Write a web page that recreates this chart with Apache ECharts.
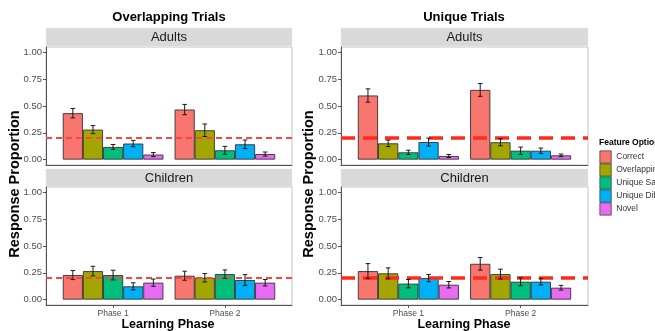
<!DOCTYPE html>
<html><head><meta charset="utf-8">
<script src="https://cdn.jsdelivr.net/npm/echarts@6/dist/echarts.min.js"></script>
<style>html,body{margin:0;padding:0;background:#fff}#c{width:655px;height:331px}</style>
</head><body><div id="c"></div><script>
// ---- data ----
const phases = ['Phase 1', 'Phase 2'];
const featureOptions = ['Correct', 'Overlapping', 'Unique Same', 'Unique Different', 'Novel'];
const yTicks = [0, 0.25, 0.5, 0.75, 1];
const chanceLevel = 0.2;
// rows = feature option, columns = phase
const overlapAdultsMean = [[0.433, 0.467], [0.280, 0.274], [0.118, 0.087], [0.150, 0.143], [0.047, 0.052]];
const overlapAdultsErr  = [[0.044, 0.048], [0.037, 0.058], [0.023, 0.037], [0.030, 0.040], [0.019, 0.019]];
const overlapChildMean  = [[0.229, 0.223], [0.266, 0.204], [0.229, 0.238], [0.124, 0.183], [0.158, 0.158]];
const overlapChildErr   = [[0.042, 0.042], [0.045, 0.039], [0.045, 0.039], [0.033, 0.050], [0.034, 0.030]];
const uniqueAdultsMean  = [[0.598, 0.650], [0.152, 0.162], [0.068, 0.083], [0.164, 0.083], [0.034, 0.040]];
const uniqueAdultsErr   = [[0.062, 0.060], [0.030, 0.033], [0.020, 0.034], [0.037, 0.025], [0.014, 0.012]];
const uniqueChildMean   = [[0.266, 0.334], [0.245, 0.238], [0.149, 0.167], [0.201, 0.167], [0.139, 0.111]];
const uniqueChildErr    = [[0.070, 0.059], [0.051, 0.046], [0.039, 0.037], [0.034, 0.030], [0.030, 0.022]];

const colors = ['#F8766D', '#A3A500', '#00BF7D', '#00B0F6', '#E76BF3'];
const FF = '"Liberation Sans", Arial, sans-serif';

const panels = [
  { mean: overlapAdultsMean, err: overlapAdultsErr, grid: { left: 46, top: 47, width: 246, height: 118 }, bottom: false, thick: false },
  { mean: overlapChildMean,  err: overlapChildErr,  grid: { left: 46, top: 187, width: 246, height: 118 }, bottom: true, thick: false },
  { mean: uniqueAdultsMean,  err: uniqueAdultsErr,  grid: { left: 341, top: 47, width: 247, height: 118 }, bottom: false, thick: true },
  { mean: uniqueChildMean,   err: uniqueChildErr,   grid: { left: 341, top: 187, width: 247, height: 118 }, bottom: true, thick: true }
];

const grids = [], xAxes = [], yAxes = [], series = [];
panels.forEach((p, i) => {
  grids.push(Object.assign({ show: true, borderColor: '#c4c4c4', borderWidth: 1, backgroundColor: '#fff' }, p.grid));
  xAxes.push({
    gridIndex: i, type: 'value', min: 0.4, max: 2.6,
    axisLine: { show: true, onZero: false, lineStyle: { color: '#555', width: 1 } },
    axisTick: { show: p.bottom, customValues: [1, 2], length: 3, lineStyle: { color: '#555' } },
    axisLabel: { show: p.bottom, customValues: [1, 2], formatter: v => phases[Math.round(v) - 1], fontSize: 8.5, color: '#4d4d4d', margin: 4, fontFamily: FF },
    splitLine: { show: false }
  });
  yAxes.push({
    gridIndex: i, type: 'value', min: -0.05, max: 1.05,
    axisLine: { show: true, onZero: false, lineStyle: { color: '#555', width: 1 } },
    axisTick: { show: true, customValues: yTicks, length: 3, lineStyle: { color: '#555' } },
    axisLabel: { customValues: yTicks, formatter: v => v.toFixed(2), fontSize: 9.5, color: '#4d4d4d', margin: 4, fontFamily: FF },
    splitLine: { show: false }
  });
  const bw = p.grid.width / 2.2 * 0.18;
  featureOptions.forEach((name, k) => {
    const s = {
      type: 'bar', name: name, xAxisIndex: i, yAxisIndex: i,
      barWidth: bw, barGap: '0%', silent: true,
      itemStyle: { color: colors[k], borderColor: '#333', borderWidth: 0.9 },
      data: phases.map((ph, j) => [j + 1, p.mean[k][j]])
    };
    if (k === 0) {
      s.markLine = {
        silent: true, symbol: 'none', label: { show: false }, z: 6,
        lineStyle: p.thick ? { color: '#ff2a1c', type: [14, 8], width: 3.5, opacity: 1 }
                           : { color: '#f8483a', type: [6, 4], width: 2, opacity: 1 },
        data: [{ yAxis: chanceLevel }]
      };
    }
    series.push(s);
  });
  const errData = [];
  featureOptions.forEach((name, k) => phases.forEach((ph, j) => errData.push([j + 1, p.mean[k][j], p.err[k][j], k])));
  series.push({
    type: 'custom', xAxisIndex: i, yAxisIndex: i, silent: true, z: 7,
    data: errData,
    renderItem: (params, api) => {
      const ph = api.value(0), m = api.value(1), e = api.value(2), k = api.value(3);
      const w = api.size([0.18, 0])[0];
      const x = api.coord([ph, m])[0] + (k - 2) * w;
      const yt = api.coord([ph, m + e])[1], yb = api.coord([ph, m - e])[1];
      const c = 2.3;
      const st = { stroke: '#1a1a1a', lineWidth: 1 };
      return { type: 'group', children: [
        { type: 'line', shape: { x1: x, y1: yt, x2: x, y2: yb }, style: st },
        { type: 'line', shape: { x1: x - c, y1: yt, x2: x + c, y2: yt }, style: st },
        { type: 'line', shape: { x1: x - c, y1: yb, x2: x + c, y2: yb }, style: st }
      ] };
    }
  });
});

const graphics = [];
const strips = [
  { x: 46, y: 28, w: 246, label: 'Adults' },
  { x: 46, y: 169, w: 246, label: 'Children' },
  { x: 341, y: 28, w: 247, label: 'Adults' },
  { x: 341, y: 169, w: 247, label: 'Children' }
];
strips.forEach(s => {
  graphics.push({ type: 'rect', shape: { x: s.x, y: s.y, width: s.w, height: 18 }, style: { fill: '#d9d9d9', stroke: '#e6e6e6', lineWidth: 0.5 }, silent: true });
  graphics.push({ type: 'text', x: s.x + s.w / 2, y: s.y + 9.5, style: { text: s.label, fontSize: 13, fontFamily: FF, fill: '#1a1a1a', align: 'center', verticalAlign: 'middle' }, silent: true });
});
graphics.push({ type: 'text', x: 169, y: 17, style: { text: 'Overlapping Trials', fontSize: 13, fontWeight: 'bold', fontFamily: FF, fill: '#000', align: 'center', verticalAlign: 'middle' } });
graphics.push({ type: 'text', x: 464, y: 17, style: { text: 'Unique Trials', fontSize: 13, fontWeight: 'bold', fontFamily: FF, fill: '#000', align: 'center', verticalAlign: 'middle' } });
graphics.push({ type: 'text', x: 168, y: 325, style: { text: 'Learning Phase', fontSize: 12.5, fontWeight: 'bold', fontFamily: FF, fill: '#000', align: 'center', verticalAlign: 'middle' } });
graphics.push({ type: 'text', x: 464, y: 325, style: { text: 'Learning Phase', fontSize: 12.5, fontWeight: 'bold', fontFamily: FF, fill: '#000', align: 'center', verticalAlign: 'middle' } });
[15, 309].forEach(x => graphics.push({ type: 'text', x: x, y: 184, rotation: Math.PI / 2, style: { text: 'Response Proportion', fontSize: 14.5, fontWeight: 'bold', fontFamily: FF, fill: '#000', align: 'center', verticalAlign: 'middle' } }));
graphics.push({ type: 'text', x: 599, y: 142.5, style: { text: 'Feature Option', fontSize: 8.5, fontWeight: 'bold', fontFamily: FF, fill: '#000', align: 'left', verticalAlign: 'middle' } });

const chart = echarts.init(document.getElementById('c'));
chart.setOption({
  animation: false,
  backgroundColor: '#fff',
  textStyle: { fontFamily: FF },
  grid: grids, xAxis: xAxes, yAxis: yAxes, series: series,
  legend: {
    data: featureOptions, orient: 'vertical', left: 599.5, top: 150.5, padding: 0,
    itemWidth: 11.4, itemHeight: 12.3, itemGap: 0, icon: 'rect', selectedMode: false,
    itemStyle: { borderColor: '#333', borderWidth: 0.7 },
    textStyle: { fontSize: 8.5, color: '#333', fontFamily: FF, lineHeight: 12.3 }
  },
  graphic: graphics
});
</script></body></html>
